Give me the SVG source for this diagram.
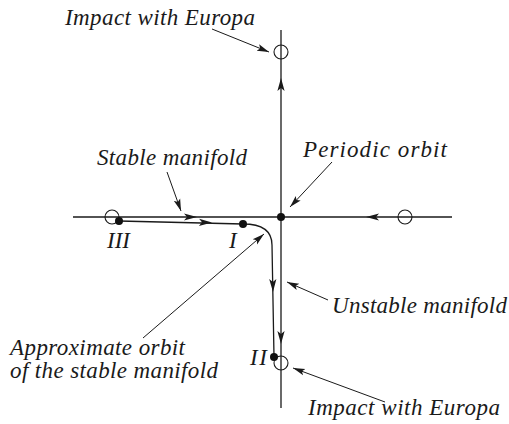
<svg xmlns="http://www.w3.org/2000/svg" width="509" height="424" viewBox="0 0 509 424">
<style>
.ax{stroke:#1a1a1a;stroke-width:1.3;fill:none}
.tr{stroke:#1a1a1a;stroke-width:1.3;fill:none}
.ld{stroke:#1a1a1a;stroke-width:1;fill:none;marker-end:url(#ah)}
.oc{fill:none;stroke:#1a1a1a;stroke-width:1.1}
.dot{fill:#111}
.t{font-family:"Liberation Serif","Times New Roman",serif;font-style:italic;font-size:23px;fill:#1a1a1a}
.hd{fill:#1a1a1a}
</style>
<defs>
<marker id="ah" markerUnits="userSpaceOnUse" markerWidth="14" markerHeight="10" refX="12" refY="5" orient="auto">
<path d="M12,5 L0,1.6 L2.5,5 L0,8.4 Z" fill="#1a1a1a"/>
</marker>
<path id="head" d="M0,0 L-13,-3.6 L-10,0 L-13,3.6 Z"/>
</defs>
<g id="connectors">
<line class="ax" x1="281" y1="30" x2="281" y2="408"/>
<line class="ax" x1="73" y1="217" x2="452" y2="217"/>
<use href="#head" class="hd" transform="translate(197,217)"/>
<use href="#head" class="hd" transform="translate(366,217) rotate(180)"/>
<use href="#head" class="hd" transform="translate(281,78) rotate(-90)"/>
<use href="#head" class="hd" transform="translate(281,344) rotate(90)"/>
<path id="trajectory" class="tr" d="M119,221 L243,224 Q272,224 272,245 L274,357"/>
<use href="#head" class="hd" transform="translate(212,222.6) rotate(1.4)"/>
<use href="#head" class="hd" transform="translate(273,292) rotate(89)"/>
<line class="ld" x1="212" y1="29" x2="269" y2="52"/>
<line class="ld" x1="167" y1="172" x2="181" y2="211"/>
<line class="ld" x1="332" y1="162" x2="290" y2="207"/>
<line class="ld" x1="328" y1="300" x2="287" y2="282"/>
<line class="ld" x1="143" y1="338" x2="264" y2="234"/>
<line class="ld" x1="385" y1="402" x2="293" y2="368"/>
</g>
<g id="impact-top"><circle class="oc" cx="281" cy="52" r="7"/></g>
<g id="impact-left"><circle class="oc" cx="112" cy="217" r="7"/></g>
<g id="impact-right"><circle class="oc" cx="405" cy="217" r="7"/></g>
<g id="impact-bottom"><circle class="oc" cx="281" cy="363" r="7"/></g>
<g id="periodic-orbit"><circle class="dot" cx="281" cy="217" r="4"/></g>
<g id="point-III"><circle class="dot" cx="119" cy="221" r="4"/><text class="t" x="107" y="248" textLength="23">III</text></g>
<g id="point-I"><circle class="dot" cx="243" cy="224" r="4"/><text class="t" x="229" y="248">I</text></g>
<g id="point-II"><circle class="dot" cx="274" cy="357" r="4"/><text class="t" x="250" y="365" textLength="17">II</text></g>
<g id="labels">
<text class="t" x="65" y="25" textLength="190">Impact with Europa</text>
<text class="t" x="97" y="165" textLength="150">Stable manifold</text>
<text class="t" x="303" y="157" textLength="144">Periodic orbit</text>
<text class="t" x="332" y="313" textLength="175">Unstable manifold</text>
<text class="t" x="10" y="355" textLength="175">Approximate orbit</text>
<text class="t" x="10" y="378" textLength="208">of the stable manifold</text>
<text class="t" x="308" y="415" textLength="192">Impact with Europa</text>
</g>
</svg>
